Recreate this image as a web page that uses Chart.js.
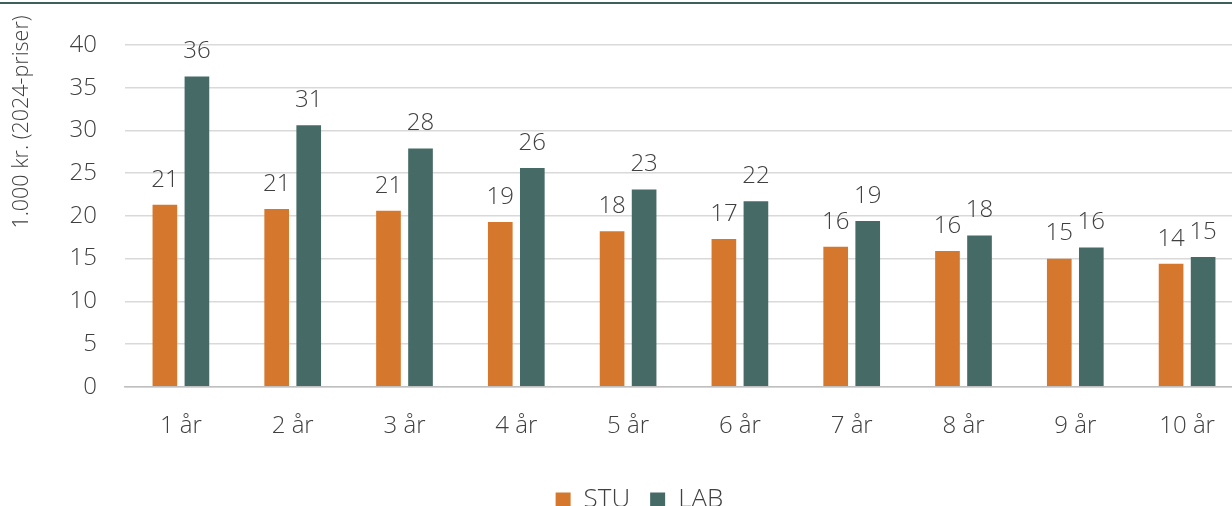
<!DOCTYPE html>
<html>
<head>
<meta charset="utf-8">
<script src="https://cdn.jsdelivr.net/npm/chart.js@4"></script>
<style>
html,body{margin:0;padding:0;background:#fff;overflow:hidden;width:1232px;height:506px}
#topline{position:absolute;left:0;top:2px;width:1232px;height:2px;background:#3f5f5b}
#wrap{position:absolute;left:0;top:0;width:1244px;height:523px}
</style>
</head>
<body>
<div id="topline"></div>
<div id="wrap"><canvas id="chart"></canvas></div>
<script>
// values, 1.000 kr. (2024-priser)
const categories = ["1 år","2 år","3 år","4 år","5 år","6 år","7 år","8 år","9 år","10 år"]
const stu = [21.3, 20.8, 20.6, 19.3, 18.2, 17.3, 16.4, 15.9, 15.0, 14.4]
const lab = [36.3, 30.6, 27.9, 25.6, 23.1, 21.7, 19.4, 17.7, 16.3, 15.2]
const yTitle = "1.000 kr. (2024-priser)"

const FONT = "'Open Sans', 'Noto Sans', sans-serif"
const TEXT = "#404040"

const barLabels = {
id: "barLabels",
afterDatasetsDraw(chart) {
const ctx = chart.ctx
ctx.save()
ctx.font = "300 24px " + FONT
ctx.fillStyle = TEXT
ctx.textAlign = "center"
ctx.textBaseline = "middle"
chart.data.datasets.forEach((ds, i) => {
chart.getDatasetMeta(i).data.forEach((bar, j) => {
ctx.fillText(String(Math.round(ds.data[j])), bar.x, bar.y - 25)
})
})
ctx.restore()
}
}

const axisTitle = {
id: "axisTitle",
afterDraw(chart) {
const ctx = chart.ctx
ctx.save()
ctx.translate(22, 122)
ctx.rotate(-Math.PI / 2)
ctx.font = "300 21.5px " + FONT
ctx.fillStyle = TEXT
ctx.textAlign = "center"
ctx.textBaseline = "middle"
ctx.fillText(yTitle, 0, 0)
ctx.restore()
}
}

new Chart(document.getElementById("chart"), {
type: "bar",
data: {
labels: categories,
datasets: [
{ label: "STU", data: stu, backgroundColor: "#d5782e", categoryPercentage: 0.573, barPercentage: 0.77 },
{ label: "LAB", data: lab, backgroundColor: "#466b66", categoryPercentage: 0.573, barPercentage: 0.77 }
]
},
options: {
responsive: true,
maintainAspectRatio: false,
animation: false,
layout: { padding: { top: 45, right: 1, left: 36, bottom: 0 } },
plugins: {
tooltip: { enabled: false },
legend: {
position: "bottom",
labels: {
boxWidth: 15, boxHeight: 15, padding: 20,
color: TEXT,
font: { family: FONT, size: 26, weight: "300" }
}
}
},
scales: {
x: {
grid: { display: false, drawTicks: false },
border: { display: true, color: "#bfbfbf", width: 1.5 },
ticks: { color: TEXT, padding: 25, font: { family: FONT, size: 24, weight: "300" } },
afterFit(s) { s.height = 80.2 }
},
y: {
min: 0, max: 40,
ticks: { stepSize: 5, color: TEXT, padding: 28, font: { family: FONT, size: 24, weight: "300" } },
grid: { color: "#d9d9d9", lineWidth: 1.5, drawTicks: false },
border: { display: false },
afterFit(s) { s.width = 89 }
}
}
},
plugins: [barLabels, axisTitle]
})
</script>
</body>
</html>
